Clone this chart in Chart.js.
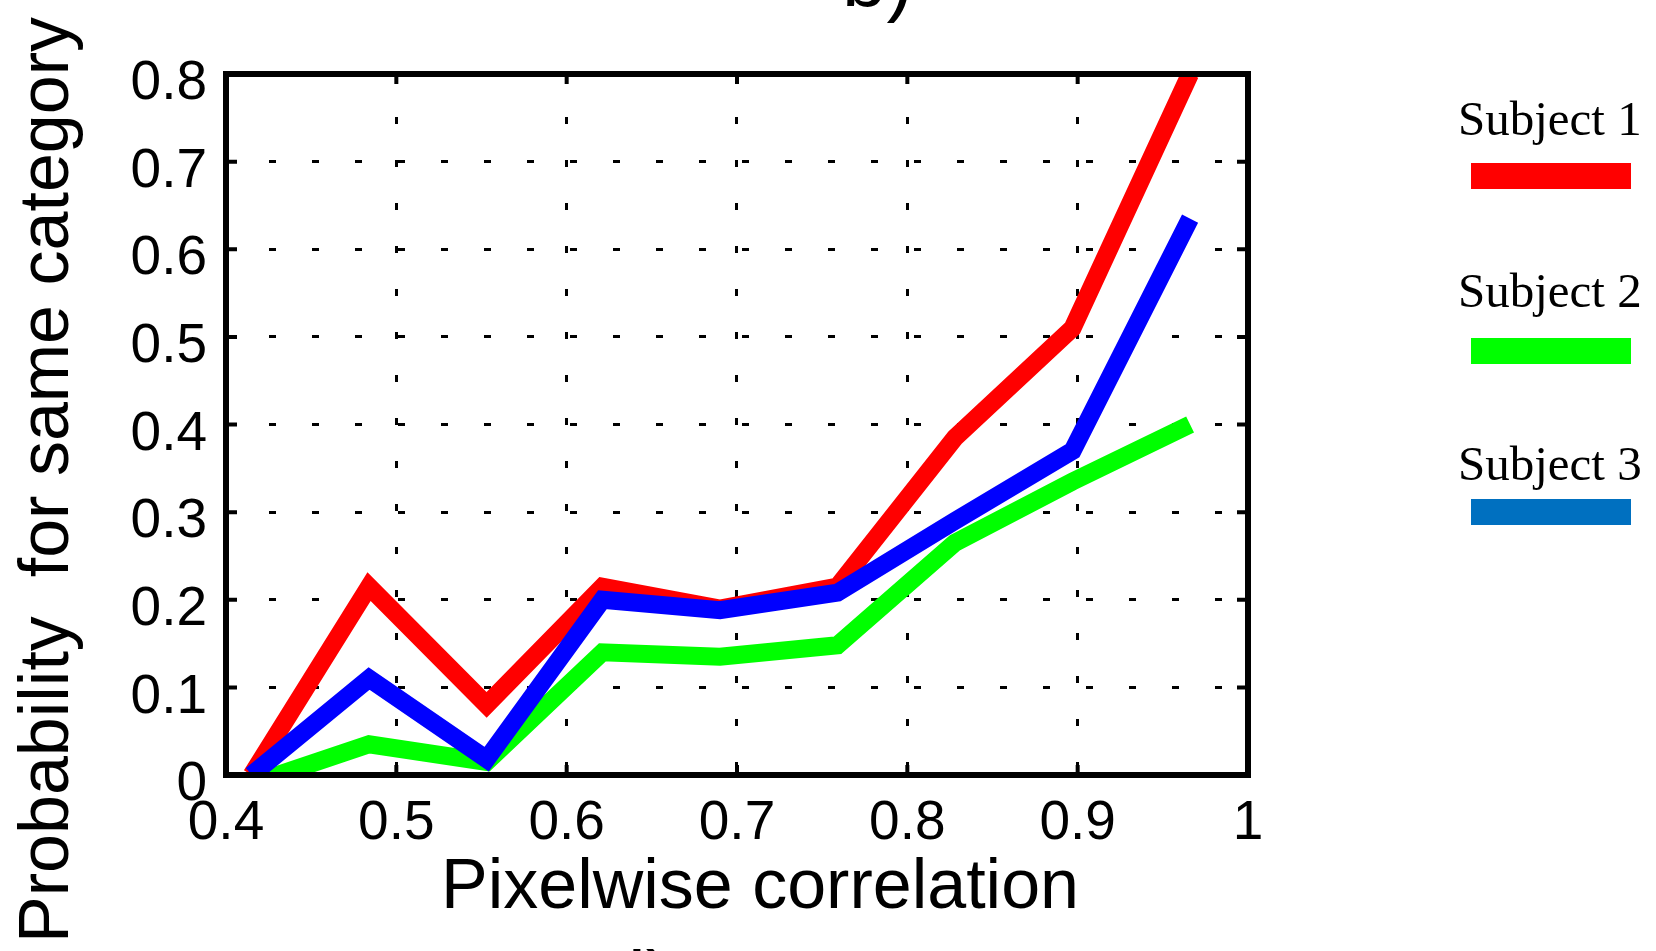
<!DOCTYPE html>
<html>
<head>
<meta charset="utf-8">
<title>Pixelwise correlation</title>
<script src="https://cdn.jsdelivr.net/npm/chart.js@4.4.1/dist/chart.umd.min.js"></script>
<style>
  html, body { margin: 0; padding: 0; background: #fff; }
  #wrap { position: relative; width: 1656px; height: 951px; overflow: hidden; background: #fff; }
  #chart { position: absolute; left: 0; top: 0; }
  .panel { position: absolute; font-family: "Liberation Sans", Arial, sans-serif; font-size: 80px; line-height: 1; color: #000; white-space: nowrap; }
  .leg-label { position: absolute; left: 1458px; font-family: "Liberation Serif", "DejaVu Serif", serif; font-size: 49px; line-height: 1; color: #000; white-space: nowrap; }
  .leg-swatch { position: absolute; left: 1471px; width: 160px; height: 26px; }
</style>
</head>
<body>
<div id="wrap">
  <canvas id="chart" width="1656" height="951"></canvas>
  <div class="panel" style="left:842px; top:-61px;">b)</div>
  <div class="panel" style="left:628px; top:940px;">i)</div>
  <div id="legend"></div>
</div>
<script>
// values
const corrBins = [0.415, 0.484, 0.553, 0.621, 0.690, 0.759, 0.828, 0.897, 0.966];
const subject1 = [0.0, 0.215, 0.08, 0.215, 0.19, 0.215, 0.385, 0.51, 0.80];
const subject2 = [-0.01, 0.035, 0.015, 0.14, 0.135, 0.148, 0.265, 0.335, 0.40];
const subject3 = [0.0, 0.11, 0.018, 0.20, 0.188, 0.208, 0.29, 0.37, 0.635];
const seriesNames = ["Subject 1", "Subject 2", "Subject 3"];
const xTickValues = [0.4, 0.5, 0.6, 0.7, 0.8, 0.9, 1];
const yTickValues = [0, 0.1, 0.2, 0.3, 0.4, 0.5, 0.6, 0.7, 0.8];

const lineColors = ["#ff0000", "#00ff00", "#0000ff"];
const legendColors = ["#ff0000", "#00ff00", "#0070c0"];
const allSeries = [subject1, subject2, subject3];

function toPoints(values) {
  return values.map((v, i) => ({ x: corrBins[i], y: v }));
}

// legend on the right, label above a thick swatch
function buildLegend() {
  const legend = document.getElementById("legend");
  const labelTops = [94, 266, 439];
  const swatchTops = [163, 338, 499];
  seriesNames.forEach((name, i) => {
    const label = document.createElement("div");
    label.className = "leg-label";
    label.style.top = labelTops[i] + "px";
    label.innerText = name;
    legend.appendChild(label);

    const sw = document.createElement("div");
    sw.className = "leg-swatch";
    sw.style.top = swatchTops[i] + "px";
    sw.style.background = legendColors[i];
    legend.appendChild(sw);
  });
}

// box around plot, inward ticks, axis titles
const boxPlugin = {
  id: "box",
  afterDraw(chart) {
    const { ctx, chartArea: a, scales } = chart;
    const x = scales.x, y = scales.y;
    ctx.save();
    ctx.strokeStyle = "#000";
    ctx.lineWidth = 4;
    ctx.beginPath();
    xTickValues.forEach((v) => {
      const px = x.getPixelForValue(v);
      ctx.moveTo(px, a.bottom); ctx.lineTo(px, a.bottom - 10);
      ctx.moveTo(px, a.top); ctx.lineTo(px, a.top + 10);
    });
    yTickValues.forEach((v) => {
      const py = y.getPixelForValue(v);
      ctx.moveTo(a.left, py); ctx.lineTo(a.left + 11, py);
      ctx.moveTo(a.right, py); ctx.lineTo(a.right - 11, py);
    });
    ctx.stroke();

    ctx.lineWidth = 6;
    ctx.strokeRect(a.left, a.top, a.right - a.left, a.bottom - a.top);

    ctx.fillStyle = "#000";
    ctx.font = '70px "Liberation Sans", Arial, sans-serif';
    ctx.textAlign = "center";
    ctx.textBaseline = "alphabetic";
    ctx.fillText("Pixelwise correlation", 760, 908);

    ctx.translate(68, 480);
    ctx.rotate(-Math.PI / 2);
    ctx.fillText("Probability  for same category", 0, 0);
    ctx.restore();
  },
};

function createChart() {
  const ctx = document.getElementById("chart").getContext("2d");
  // blue drawn on top, red underneath
  const drawOrder = [2, 1, 0];
  const datasets = allSeries.map((values, i) => ({
    label: seriesNames[i],
    data: toPoints(values),
    borderColor: lineColors[i],
    backgroundColor: lineColors[i],
    borderWidth: 18,
    pointRadius: 0,
    tension: 0,
    fill: false,
    clip: 0,
    order: drawOrder[i],
  }));

  const tickFont = { family: '"Liberation Sans", Arial, sans-serif', size: 55 };

  new Chart(ctx, {
    type: "line",
    data: { datasets: datasets },
    options: {
      responsive: false,
      devicePixelRatio: 1,
      animation: false,
      layout: { padding: { left: 0, top: 74, right: 408, bottom: 0 } },
      plugins: {
        legend: { display: false },
        tooltip: { enabled: false },
      },
      scales: {
        x: {
          type: "linear",
          min: 0.4,
          max: 1,
          afterBuildTicks: (scale) => {
            scale.ticks = xTickValues.map((v) => ({ value: v }));
          },
          afterFit: (scale) => { scale.height = 176; },
          ticks: {
            font: tickFont,
            color: "#000",
            padding: 16,
            maxRotation: 0,
            autoSkip: false,
            callback: (v) => String(Math.round(v * 10) / 10),
          },
          grid: {
            color: "#000",
            lineWidth: 3,
            drawTicks: false,
          },
          border: { display: false, dash: [7, 36] },
        },
        y: {
          type: "linear",
          min: 0,
          max: 0.8,
          afterBuildTicks: (scale) => {
            scale.ticks = yTickValues.map((v) => ({ value: v }));
          },
          afterFit: (scale) => { scale.width = 226; },
          ticks: {
            font: tickFont,
            color: "#000",
            padding: 19,
            labelOffset: 10,
            autoSkip: false,
            callback: (v) => String(Math.round(v * 10) / 10),
          },
          grid: {
            color: "#000",
            lineWidth: 3,
            drawTicks: false,
          },
          border: { display: false, dash: [7, 36] },
        },
      },
    },
    plugins: [boxPlugin],
  });
}

buildLegend();
createChart();
</script>
</body>
</html>
